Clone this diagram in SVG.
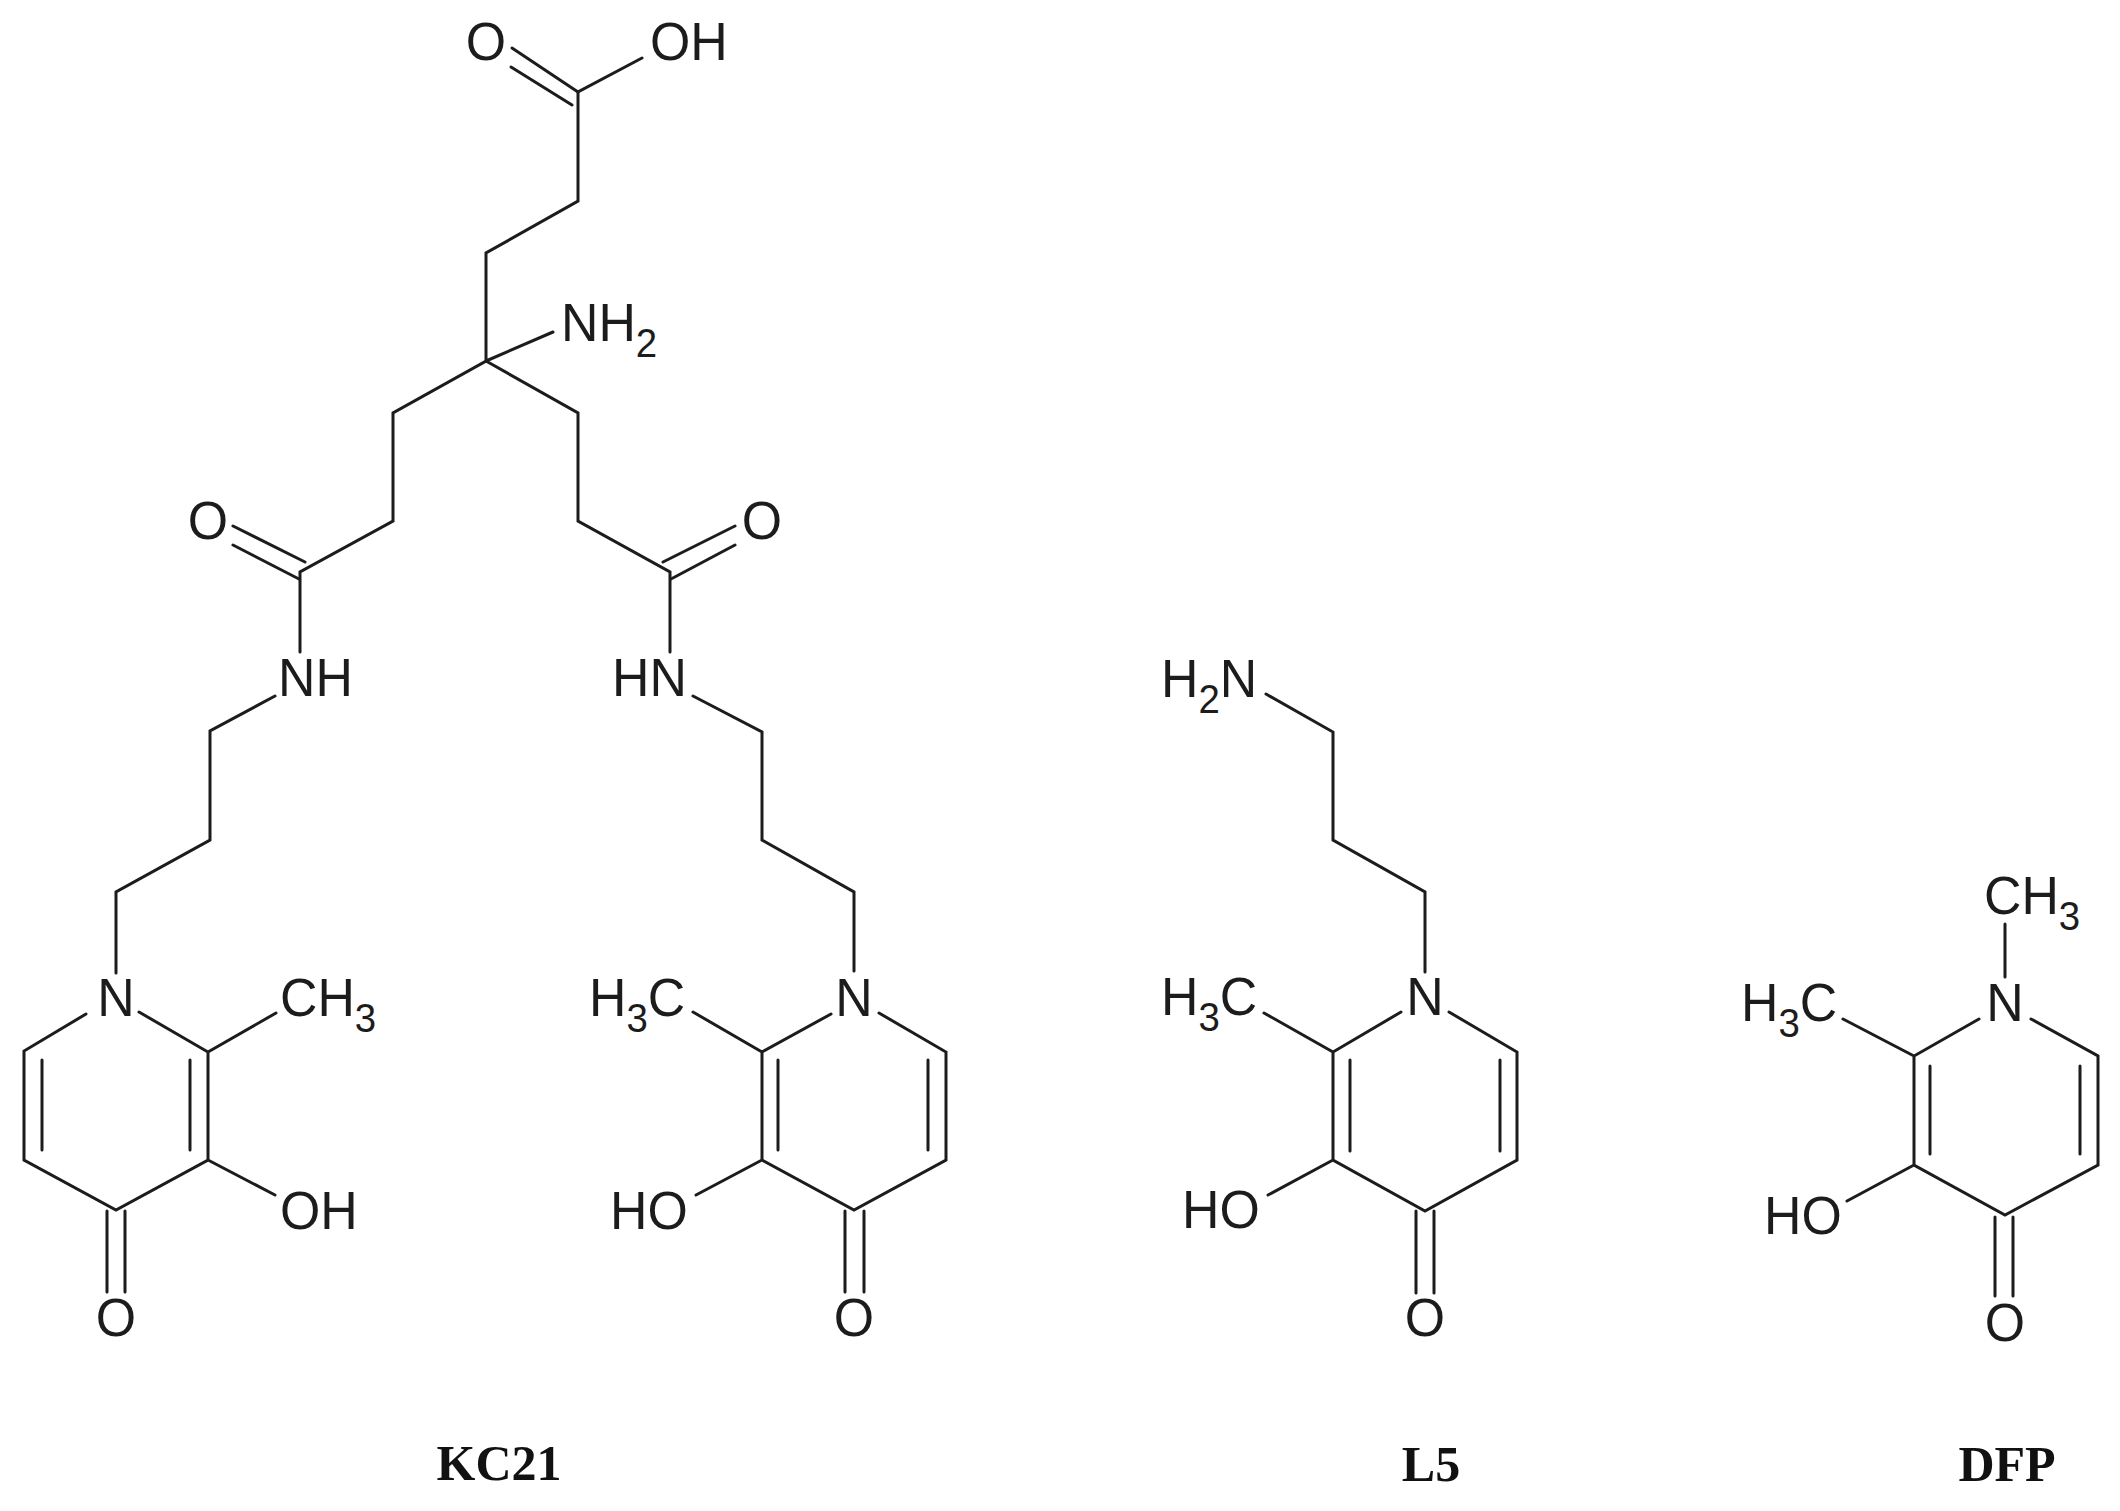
<svg xmlns="http://www.w3.org/2000/svg" width="2120" height="1511" viewBox="0 0 2120 1511">
<style>
.b{fill:none;stroke:#1c1c1c;stroke-width:3;stroke-linecap:round;stroke-linejoin:miter}
.a{font-family:"Liberation Sans",Arial,sans-serif;font-size:54px;fill:#1c1c1c}
.s{font-size:40px}
.m{text-anchor:middle}
.n{font-family:"Liberation Serif","Times New Roman",serif;font-size:50px;font-weight:bold;fill:#111;text-anchor:middle}
</style>
<rect width="2120" height="1511" fill="#fff"/>
<g id="bonds" class="b">
<g id="bonds-kc21">
<path d="M642 58L578 92V201L486 253V361L393 413V521L300 572V652M486 361L553 332M486 361L578 413V521L670 572V652"/>
<path d="M233 526L305 562M233 545L299 579M735 526L663 562M735 545L671 579M578 92L512 48M572 105L511 67"/>
<path d="M275 696L210 731V840L116 892V973"/>
<path d="M86 1014L24 1051V1160L116 1210L208 1160V1052L139 1012M42 1060V1150M190 1060V1150M208 1052L276 1013M208 1160L275 1195M107 1211V1292M125 1211V1292"/>
<path d="M693 696L762 732V840L854 892V971"/>
<path d="M831 1014L762 1052V1160L854 1210L946 1160V1052L879 1013M778 1060V1150M928 1060V1150M693 1012L762 1052M696 1195L762 1160M845 1211V1292M864 1211V1292"/>
</g>
<g id="bonds-l5">
<path d="M1266 694L1333 732V840L1425 892V972"/>
<path d="M1401 1012L1333 1052V1160L1425 1211L1517 1160V1052L1449 1012M1350 1060V1151M1500 1060V1151M1264 1013L1333 1052M1268 1195L1333 1160M1416 1211V1293M1434 1211V1293"/>
</g>
<g id="bonds-dfp">
<path d="M2005 924V977"/>
<path d="M1979 1019L1914 1056V1165L2005 1215L2098 1165V1056L2031 1019M1930 1066V1154M2080 1066V1154M1843 1019L1914 1056M1847 1201L1914 1165M1995 1217V1296M2013 1217V1296"/>
</g>
</g>
<g id="kc21">
<g id="kc21-o1"><text class="a m" transform="translate(486 60) scale(.96 1)">O</text></g>
<g id="kc21-oh1"><text class="a" transform="translate(650 60) scale(.96 1)">OH</text></g>
<g id="kc21-nh2"><text class="a" transform="translate(561 341) scale(.96 1)">NH<tspan class="s" dy="16">2</tspan></text></g>
<g id="kc21-o2"><text class="a m" transform="translate(208 539) scale(.96 1)">O</text></g>
<g id="kc21-o3"><text class="a m" transform="translate(762 539) scale(.96 1)">O</text></g>
<g id="kc21-nh"><text class="a" transform="translate(278 696) scale(.96 1)">NH</text></g>
<g id="kc21-hn"><text class="a" transform="translate(612 696) scale(.96 1)">HN</text></g>
<g id="kc21-n1"><text class="a m" transform="translate(116 1016) scale(.96 1)">N</text></g>
<g id="kc21-ch3"><text class="a" transform="translate(280 1016) scale(.96 1)">CH<tspan class="s" dy="16">3</tspan></text></g>
<g id="kc21-oh2"><text class="a" transform="translate(280 1229) scale(.96 1)">OH</text></g>
<g id="kc21-o4"><text class="a m" transform="translate(116 1336) scale(.96 1)">O</text></g>
<g id="kc21-n2"><text class="a m" transform="translate(854 1016) scale(.96 1)">N</text></g>
<g id="kc21-h3c"><text class="a" transform="translate(589 1016) scale(.96 1)">H<tspan class="s" dy="16">3</tspan><tspan dy="-16">C</tspan></text></g>
<g id="kc21-ho"><text class="a" transform="translate(610 1229) scale(.96 1)">HO</text></g>
<g id="kc21-o5"><text class="a m" transform="translate(854 1336) scale(.96 1)">O</text></g>
<g id="kc21-name"><text class="n" x="499" y="1480">KC21</text></g>
</g>
<g id="l5">
<g id="l5-h2n"><text class="a" transform="translate(1161 697) scale(.96 1)">H<tspan class="s" dy="16">2</tspan><tspan dy="-16">N</tspan></text></g>
<g id="l5-n"><text class="a m" transform="translate(1425 1015) scale(.96 1)">N</text></g>
<g id="l5-h3c"><text class="a" transform="translate(1161 1015) scale(.96 1)">H<tspan class="s" dy="16">3</tspan><tspan dy="-16">C</tspan></text></g>
<g id="l5-ho"><text class="a" transform="translate(1182 1228) scale(.96 1)">HO</text></g>
<g id="l5-o"><text class="a m" transform="translate(1425 1336) scale(.96 1)">O</text></g>
<g id="l5-name"><text class="n" x="1431" y="1481">L5</text></g>
</g>
<g id="dfp">
<g id="dfp-ch3"><text class="a" transform="translate(1984 914) scale(.96 1)">CH<tspan class="s" dy="16">3</tspan></text></g>
<g id="dfp-n"><text class="a m" transform="translate(2005 1021) scale(.96 1)">N</text></g>
<g id="dfp-h3c"><text class="a" transform="translate(1741 1021) scale(.96 1)">H<tspan class="s" dy="16">3</tspan><tspan dy="-16">C</tspan></text></g>
<g id="dfp-ho"><text class="a" transform="translate(1764 1234) scale(.96 1)">HO</text></g>
<g id="dfp-o"><text class="a m" transform="translate(2005 1341) scale(.96 1)">O</text></g>
<g id="dfp-name"><text class="n" x="2007" y="1481">DFP</text></g>
</g>
</svg>
